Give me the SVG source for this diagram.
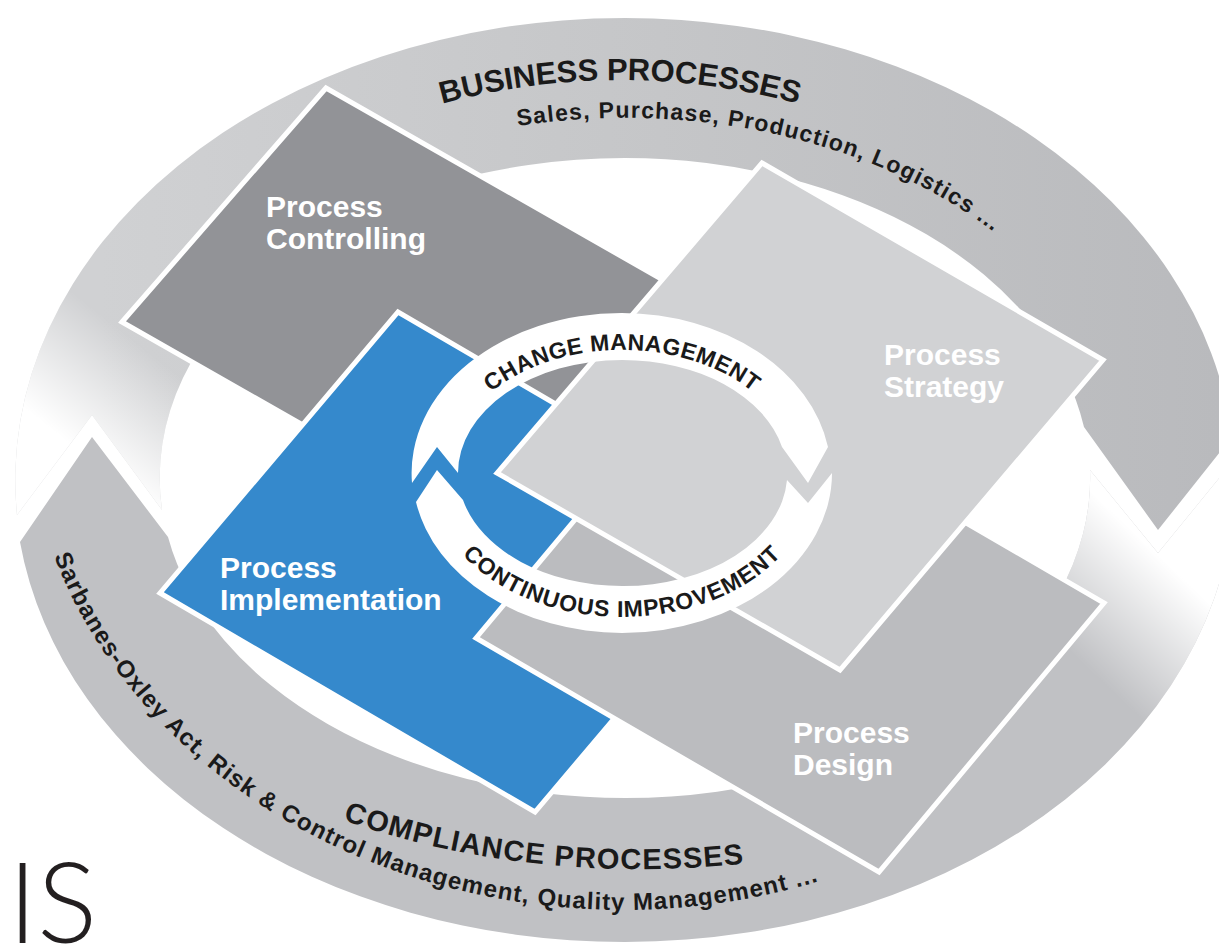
<svg xmlns="http://www.w3.org/2000/svg" xmlns:xlink="http://www.w3.org/1999/xlink" width="1219" height="946" viewBox="0 0 1219 946">
<style>
.shape{stroke:#ffffff;stroke-width:5;stroke-linejoin:miter}
.lbl{font-family:"Liberation Sans",Arial,sans-serif;font-weight:bold;font-size:30px;fill:#ffffff}
.arc{font-family:"Liberation Sans",Arial,sans-serif;font-weight:bold;fill:#1a1a1a}
</style>
<defs>
<linearGradient id="gTop" gradientUnits="userSpaceOnUse" x1="100" y1="0" x2="1219" y2="0">
<stop offset="0" stop-color="#d0d1d3"/><stop offset="0.5" stop-color="#c5c6c8"/><stop offset="1" stop-color="#b9babd"/>
</linearGradient>
<linearGradient id="fadeTop" gradientUnits="userSpaceOnUse" x1="140" y1="345" x2="65" y2="440">
<stop offset="0" stop-color="#ffffff" stop-opacity="0"/><stop offset="1" stop-color="#ffffff" stop-opacity="1"/>
</linearGradient>
<linearGradient id="fadeBot" gradientUnits="userSpaceOnUse" x1="1105" y1="685" x2="1195" y2="590">
<stop offset="0" stop-color="#ffffff" stop-opacity="0"/><stop offset="1" stop-color="#ffffff" stop-opacity="1"/>
</linearGradient>
<path id="pBiz" d="M 95,480 A 525 400 0 0 1 1145,480"/>
<path id="pSales" d="M 518,126 A 505 360 0 0 1 1130,480"/>
<path id="pComp" d="M 343,820 A 610 388 0 0 0 1250,480"/>
<path id="pSox" d="M 54,556 A 600 513 0 0 0 621,910 A 600 513 0 0 0 1221,397"/>
<path id="pChange" d="M 448,473 A 174 123 0 0 1 796,473"/>
<path id="pCont" d="M 428,473 A 194 144 0 0 0 816,473"/>
</defs>
<rect width="1219" height="946" fill="#ffffff"/>

<g id="business-processes">
<path d="M 17,515 A 610 462 0 0 1 625,18 A 610 462 0 0 1 1232,437 L 1158,530 L 1084,427 A 465 320 0 0 0 625,158 A 465 320 0 0 0 162,510 L 92,415 Z" fill="url(#gTop)"/>
<path d="M 17,515 A 610 462 0 0 1 625,18 A 610 462 0 0 1 1232,437 L 1158,530 L 1084,427 A 465 320 0 0 0 625,158 A 465 320 0 0 0 162,510 L 92,415 Z" fill="url(#fadeTop)"/>
<text class="arc" font-size="31"><textPath xlink:href="#pBiz" startOffset="50%" text-anchor="middle">BUSINESS PROCESSES</textPath></text>
<text class="arc" font-size="23" letter-spacing="1.2"><textPath xlink:href="#pSales">Sales, Purchase, Production, Logistics ...</textPath></text>
</g>

<g id="compliance-processes">
<path d="M 1234,460 A 610 462 0 0 1 625,942 A 610 462 0 0 1 20,542 L 92,437 L 168,537 A 465 320 0 0 0 625,798 A 465 320 0 0 0 1090,470 L 1158,553 Z" fill="#c0c1c4"/>
<path d="M 1234,460 A 610 462 0 0 1 625,942 A 610 462 0 0 1 20,542 L 92,437 L 168,537 A 465 320 0 0 0 625,798 A 465 320 0 0 0 1090,470 L 1158,553 Z" fill="url(#fadeBot)"/>
<text class="arc" font-size="29" letter-spacing="1.2"><textPath xlink:href="#pComp">COMPLIANCE PROCESSES</textPath></text>
<text class="arc" font-size="24" letter-spacing="1.1"><textPath xlink:href="#pSox">Sarbanes-Oxley Act, Risk &amp; Control Management, Quality Management ...</textPath></text>
</g>

<g id="process-controlling">
<polygon class="shape" points="122,322 326,88 756,333 552,567" fill="#929397"/>
<text class="lbl" x="266" y="217">Process</text>
<text class="lbl" x="266" y="249">Controlling</text>
</g>

<g id="process-implementation">
<polygon class="shape" points="160,593 398,312 773,531 535,812" fill="#3589cc"/>
<text class="lbl" x="220" y="578">Process</text>
<text class="lbl" x="220" y="610">Implementation</text>
</g>

<g id="process-design">
<polygon class="shape" points="476,638 701,369 1104,603 879,872" fill="#bbbcbf"/>
<text class="lbl" x="793" y="743">Process</text>
<text class="lbl" x="793" y="775">Design</text>
</g>

<g id="process-strategy">
<polygon class="shape" points="497,473 762,163 1103,360 840,670" fill="#d1d2d4"/>
<text class="lbl" x="884" y="365">Process</text>
<text class="lbl" x="884" y="397">Strategy</text>
</g>

<g id="connectors">
<path id="change-management-arrow" d="M 412,483 A 210 160 0 0 1 622,313 A 210 160 0 0 1 828,447 L 808,483 L 782,447 A 164 113 0 0 0 622,360 A 164 113 0 0 0 458,473 L 437,447 Z" fill="#ffffff"/>
<path id="continuous-improvement-arrow" d="M 832,473 A 210 160 0 0 1 622,633 A 210 160 0 0 1 416,502 L 437,470 L 463,500 A 164 113 0 0 0 622,586 A 164 113 0 0 0 787,480 L 808,503 Z" fill="#ffffff"/>
</g>

<g id="cycle-labels">
<text class="arc" font-size="23" letter-spacing="0.4"><textPath xlink:href="#pChange" startOffset="50%" text-anchor="middle">CHANGE MANAGEMENT</textPath></text>
<text class="arc" font-size="23" letter-spacing="0.9"><textPath xlink:href="#pCont" startOffset="50%" text-anchor="middle">CONTINUOUS IMPROVEMENT</textPath></text>
</g>

<g id="logo">
<text x="8" y="943" font-family="Lato,'Open Sans',sans-serif" font-weight="300" font-size="112" fill="#231f20">IS</text>
</g>
</svg>
